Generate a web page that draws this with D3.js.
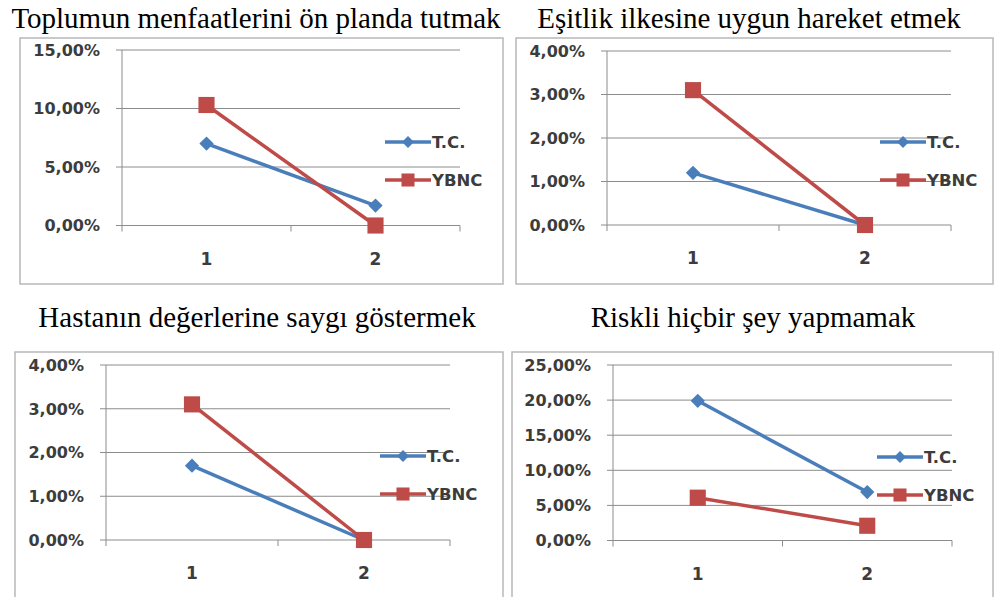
<!DOCTYPE html>
<html>
<head>
<meta charset="utf-8">
<script src="https://cdn.jsdelivr.net/npm/d3@7"></script>
<style>
  body { margin: 0; background: #fff; }
  svg { display: block; }
</style>
</head>
<body>
<script>
// chart data
var categories = ["1", "2"];
var titles = [
    "Toplumun menfaatlerini ön planda tutmak",
    "Eşitlik ilkesine uygun hareket etmek",
    "Hastanın değerlerine saygı göstermek",
    "Riskli hiçbir şey yapmamak"
];
var seriesNames = ["T.C.", "YBNC"];
var tcValues = [[0.070, 0.017], [0.012, 0.000], [0.017, 0.000], [0.199, 0.069]];
var ybncValues = [[0.103, 0.000], [0.031, 0.000], [0.031, 0.000], [0.061, 0.021]];
var yMax = [0.15, 0.04, 0.04, 0.25];
var yStep = [0.05, 0.01, 0.01, 0.05];

// page layout
var width = 994;
var height = 597;
var layout = [
    { fx: 20,  fy: 38,  fw: 483, fh: 246, l: 122, r: 460, t: 50,  b: 225.5, lx: 385, ly: 142, tx: 256, ty: 28 },
    { fx: 516, fy: 38,  fw: 477, fh: 246, l: 607, r: 951, t: 51,  b: 225,   lx: 880, ly: 142, tx: 749, ty: 28 },
    { fx: 15,  fy: 352, fw: 488, fh: 260, l: 106, r: 450, t: 365, b: 540,   lx: 380, ly: 456, tx: 257, ty: 327 },
    { fx: 512, fy: 352, fw: 481, fh: 260, l: 613, r: 952, t: 365, b: 540.5, lx: 877, ly: 457, tx: 753, ty: 327 }
];
var colors = ["#4a7ebb", "#be4b48"];
var labelFont = "'DejaVu Sans', Verdana, sans-serif";

var tr = d3.formatLocale({ decimal: ",", thousands: ".", grouping: [3], currency: ["", "₺"] });
var pct = tr.format(".2%");

var svg = d3.select("body")
    .append("svg")
    .attr("width", width)
    .attr("height", height);

var diamond = d3.symbol().type(d3.symbolDiamond2);
var square = d3.symbol().type(d3.symbolSquare);

layout.forEach(function(p, i) {
    svg.append("text")
        .attr("x", p.tx)
        .attr("y", p.ty)
        .attr("text-anchor", "middle")
        .style("font-family", "'Liberation Serif', 'Times New Roman', serif")
        .style("font-size", "29px")
        .attr("fill", "#000")
        .text(titles[i]);

    svg.append("rect")
        .attr("x", p.fx)
        .attr("y", p.fy)
        .attr("width", p.fw)
        .attr("height", p.fh)
        .attr("fill", "#fff")
        .attr("stroke", "#b8b8b8")
        .attr("stroke-width", 1.5);

    var x = d3.scaleBand().domain(categories).range([p.l, p.r]);
    var y = d3.scaleLinear().domain([0, yMax[i]]).range([p.b, p.t]);
    var ticks = d3.range(0, yMax[i] + yStep[i] / 2, yStep[i]);

    var g = svg.append("g");

    // gridlines with outside tick marks
    g.selectAll(".grid")
        .data(ticks)
        .enter()
        .append("line")
        .attr("x1", p.l - 6)
        .attr("x2", p.r)
        .attr("y1", function(d) { return y(d); })
        .attr("y2", function(d) { return y(d); })
        .attr("stroke", "#8c8c8c")
        .attr("stroke-width", 1);

    g.append("line")
        .attr("x1", p.l).attr("x2", p.l)
        .attr("y1", p.t).attr("y2", p.b)
        .attr("stroke", "#8c8c8c");

    // category ticks at band edges
    var edges = categories.map(function(c) { return x(c); }).concat([p.r]);
    g.selectAll(".xt")
        .data(edges)
        .enter()
        .append("line")
        .attr("x1", function(d) { return d; })
        .attr("x2", function(d) { return d; })
        .attr("y1", p.b)
        .attr("y2", p.b + 6)
        .attr("stroke", "#8c8c8c");

    g.selectAll(".yl")
        .data(ticks)
        .enter()
        .append("text")
        .attr("x", p.l - 22)
        .attr("y", function(d) { return y(d); })
        .attr("dy", "0.36em")
        .attr("text-anchor", "end")
        .style("font-family", labelFont)
        .style("font-weight", "bold")
        .style("font-size", "16px")
        .attr("fill", "#3c3c3c")
        .text(function(d) { return pct(d); });

    g.selectAll(".xl")
        .data(categories)
        .enter()
        .append("text")
        .attr("x", function(d) { return x(d) + x.bandwidth() / 2; })
        .attr("y", p.b + 39)
        .attr("text-anchor", "middle")
        .style("font-family", labelFont)
        .style("font-weight", "bold")
        .style("font-size", "17px")
        .attr("fill", "#3c3c3c")
        .text(function(d) { return d; });

    var line = d3.line()
        .x(function(d, j) { return x(categories[j]) + x.bandwidth() / 2; })
        .y(function(d) { return y(d); });

    [tcValues[i], ybncValues[i]].forEach(function(vals, s) {
        g.append("path")
            .attr("d", line(vals))
            .attr("fill", "none")
            .attr("stroke", colors[s])
            .attr("stroke-width", 3.5);

        g.selectAll(".m" + s)
            .data(vals)
            .enter()
            .append("path")
            .attr("d", s == 0 ? diamond.size(130)() : square.size(260)())
            .attr("fill", colors[s])
            .attr("transform", function(d, j) {
                return "translate(" + (x(categories[j]) + x.bandwidth() / 2) + "," + y(d) + ")";
            });

        // legend
        var ly = p.ly + s * 38;
        g.append("line")
            .attr("x1", p.lx).attr("x2", p.lx + 46)
            .attr("y1", ly).attr("y2", ly)
            .attr("stroke", colors[s])
            .attr("stroke-width", 3.5);
        g.append("path")
            .attr("d", s == 0 ? diamond.size(90)() : square.size(170)())
            .attr("fill", colors[s])
            .attr("transform", "translate(" + (p.lx + 23) + "," + ly + ")");
        g.append("text")
            .attr("x", p.lx + 47)
            .attr("y", ly)
            .attr("dy", "0.36em")
            .style("font-family", labelFont)
            .style("font-weight", "bold")
            .style("font-size", "16.5px")
            .attr("fill", "#3c3c3c")
            .text(seriesNames[s]);
    });
});
</script>
</body>
</html>
